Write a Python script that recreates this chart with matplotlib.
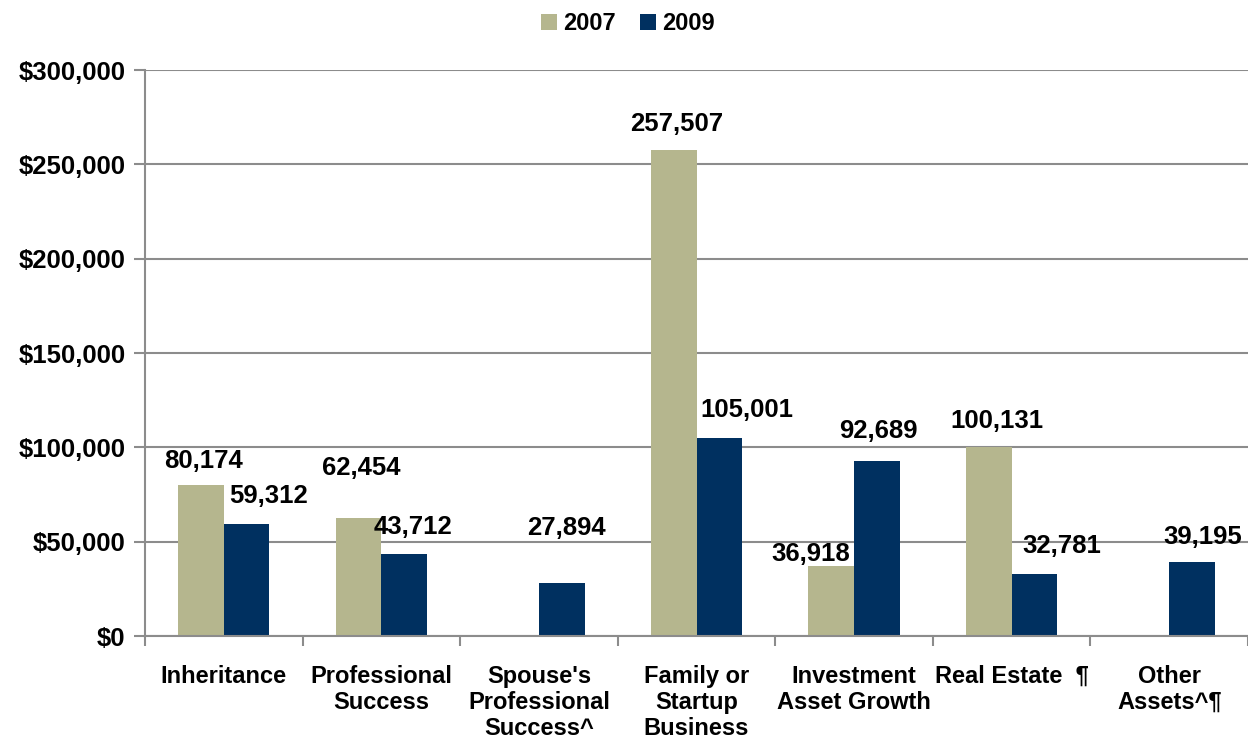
import matplotlib.pyplot as plt
import numpy as np
from matplotlib.ticker import FuncFormatter, MultipleLocator

plt.rcParams['font.family'] = ['Liberation Sans', 'DejaVu Sans']
plt.rcParams['font.weight'] = 'bold'

categorias = ["Inheritance", "Professional\nSuccess", "Spouse's\nProfessional\nSuccess^",
              "Family or\nStartup\nBusiness", "Investment\nAsset Growth", "Real Estate  \u00b6",
              "Other\nAssets^\u00b6"]
valores_2007 = [80174, 62454, 0, 257507, 36918, 100131, 0]
valores_2009 = [59312, 43712, 27894, 105001, 92689, 32781, 39195]

# deslocamento dos rótulos (pontos) como no original
desl_2007 = [(2, 17), (2, 36), (0, 0), (2, 19), (-15, 9), (6, 19), (0, 0)]
desl_2009 = [(16, 20), (6, 19), (3, 40), (20, 20), (1, 22), (20, 20), (8, 18)]

cor_2007 = "#b5b68e"
cor_2009 = "#003060"
cinza = "#8c8c8c"

fig = plt.figure(figsize=(12.48, 7.4), dpi=100)
ax = fig.add_axes([0.1162, 0.1405, 0.8838, 0.7649])

x = np.arange(len(categorias))
w = 0.29
b1 = ax.bar(x - w / 2, valores_2007, w, color=cor_2007, label="2007")
b2 = ax.bar(x + w / 2, valores_2009, w, color=cor_2009, label="2009")

for barras, vals, desl in [(b1, valores_2007, desl_2007), (b2, valores_2009, desl_2009)]:
    for b, v, d in zip(barras, vals, desl):
        if v == 0:
            continue
        ax.annotate(f"{v:,}", (b.get_x() + b.get_width() / 2, v), xytext=d,
                    textcoords="offset points", ha="center", va="center",
                    fontsize=18.5, fontweight="bold")

ax.set_xlim(-0.5, len(categorias) - 0.5)
ax.set_ylim(0, 300000)
ax.yaxis.set_major_locator(MultipleLocator(50000))
ax.yaxis.set_major_formatter(FuncFormatter(lambda v, p: f"${v:,.0f}"))
ax.grid(axis="y", color=cinza, linewidth=1.5)
ax.set_axisbelow(True)

ax.set_xticks(x)
ax.set_xticklabels(categorias, fontsize=17, fontweight="bold", linespacing=1.15)
ax.tick_params(axis="x", length=0, pad=21)
ax.set_xticks(np.arange(len(categorias) + 1) - 0.5, minor=True)
ax.tick_params(axis="x", which="minor", length=7, color=cinza, width=1.5)
ax.tick_params(axis="y", length=8, color=cinza, width=1.5, labelsize=18.5, pad=6)

for s in ["top", "right"]:
    ax.spines[s].set_visible(False)
ax.spines["left"].set_color(cinza)
ax.spines["left"].set_linewidth(1.5)
ax.spines["bottom"].set_color(cinza)
ax.spines["bottom"].set_linewidth(1.5)

fig.legend(loc="upper center", bbox_to_anchor=(0.503, 1.012), ncol=2, frameon=False,
           prop={"size": 17, "weight": "bold"}, handlelength=0.7, handleheight=0.7,
           handletextpad=0.25, columnspacing=1.0)

plt.savefig("out.png", dpi=100)
